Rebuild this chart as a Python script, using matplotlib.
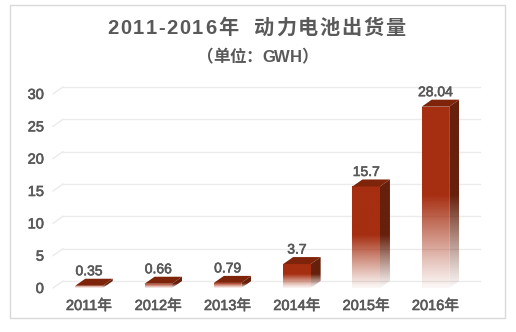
import numpy as np
import matplotlib
matplotlib.use("Agg")
import matplotlib.pyplot as plt
import matplotlib.patheffects as pe
from matplotlib.patches import Polygon, Rectangle
from matplotlib.colors import to_rgb

FAM = ['Liberation Sans', 'Noto Sans CJK SC', 'DejaVu Sans']
plt.rcParams['font.family'] = FAM

# ---- data ----
categories = ["2011年", "2012年", "2013年", "2014年", "2015年", "2016年"]
values = [0.35, 0.66, 0.79, 3.7, 15.7, 28.04]
value_labels = ["0.35", "0.66", "0.79", "3.7", "15.7", "28.04"]
y_ticks = [0, 5, 10, 15, 20, 25, 30]
title = "2011-2016年  动力电池出货量"
subtitle = "（单位：GWH）"

# ---- layout (pixel mapping) ----
W_PX, H_PX = 516, 332
X0_PX, X_STEP = 89.0, 69.3      # pixel of category 0, pixels per category
Y0_PX, Y_UNIT = 281.0, 6.467    # pixel of value 0 (back wall), pixels per unit

fig = plt.figure(figsize=(W_PX / 100, H_PX / 100), dpi=100)
ax = fig.add_axes([0, 0, 1, 1])
ax.axis('off')
ax.set_xlim((0 - X0_PX) / X_STEP, (W_PX - X0_PX) / X_STEP)
ax.set_ylim((Y0_PX - H_PX) / Y_UNIT, Y0_PX / Y_UNIT)

def px_x(p):
    return (p - X0_PX) / X_STEP

def px_y(p):
    return (Y0_PX - p) / Y_UNIT

TEXT = "#595959"
FRONT = to_rgb("#A62E11")
TOP = to_rgb("#7E240A")
SIDE = to_rgb("#66200C")
THICK = [pe.withStroke(linewidth=0.45, foreground=TEXT)]

BW = 27.5 / X_STEP
DX = 10 / X_STEP
DY = 7 / Y_UNIT

renderer = fig.canvas.get_renderer()

def spaced_text(s, cx_px, cy_px, size, target_w, weight='bold'):
    """Draw text with uniform letter spacing, centred at (cx_px, cy_px)."""
    arts, widths = [], []
    for ch in s:
        t = ax.text(0, 0, ch if ch != ' ' else '', fontsize=size, fontweight=weight,
                    color=TEXT, ha='left', va='center')
        if ch == ' ':
            w = 0.28 * size * 100 / 72
        else:
            w = t.get_window_extent(renderer).width
        arts.append(t)
        widths.append(w)
    gap = (target_w - sum(widths)) / max(len(s) - 1, 1)
    x = cx_px - target_w / 2
    for t, w in zip(arts, widths):
        t.set_position((px_x(x), px_y(cy_px)))
        x += w + gap

# outer border
ax.add_patch(Rectangle((px_x(10), px_y(318)), px_x(505) - px_x(10), px_y(5) - px_y(318),
                       fill=False, edgecolor="#D9D9D9", lw=1.0, zorder=0))

# gridlines on back wall with floor diagonals
gl_left, gl_right = px_x(63), px_x(480)
for t in y_ticks:
    ax.plot([gl_left, gl_right], [t, t], color="#EBEBEB", lw=1.0, zorder=1)
    ax.plot([gl_left - DX, gl_left], [t - DY, t], color="#EBEBEB", lw=1.0, zorder=1)
    ax.text(px_x(44), t - 8 / Y_UNIT, str(t), ha='right', va='center',
            fontsize=10.5, color=TEXT, path_effects=THICK)

def gradient_img(color, y_bottom, y_top, fade_top, n=200):
    ys = np.linspace(y_bottom, y_top, n)
    a = np.clip((ys - y_bottom) / max(fade_top - y_bottom, 1e-6), 0.0, 1.0)
    a = 0.04 + 0.96 * a ** 1.1
    arr = np.zeros((n, 1, 4))
    arr[:, 0, :3] = color
    arr[:, 0, 3] = a
    return arr

for i, v in enumerate(values):
    xl, xr = i - BW / 2, i + BW / 2
    yb, yt = -DY, v - DY
    fade_top = yb + 0.5 * v + 0.3
    # front face
    front = Polygon([(xl, yb), (xr, yb), (xr, yt), (xl, yt)], closed=True,
                    facecolor='none', edgecolor='none')
    ax.add_patch(front)
    im = ax.imshow(gradient_img(FRONT, yb, yt, fade_top), extent=[xl, xr, yb, yt],
                   origin='lower', aspect='auto', interpolation='bilinear', zorder=3)
    im.set_clip_path(front)
    # side face
    side = Polygon([(xr, yb), (xr + DX, 0), (xr + DX, v), (xr, yt)], closed=True,
                   facecolor='none', edgecolor='none')
    ax.add_patch(side)
    im2 = ax.imshow(gradient_img(SIDE, yb, v, fade_top), extent=[xr, xr + DX, yb, v],
                    origin='lower', aspect='auto', interpolation='bilinear', zorder=3)
    im2.set_clip_path(side)
    # top face
    ax.add_patch(Polygon([(xl, yt), (xr, yt), (xr + DX, v), (xl + DX, v)], closed=True,
                         facecolor=TOP, edgecolor='none', zorder=4))
    # value label
    ax.text(i, v + 7.5 / Y_UNIT, value_labels[i], ha='center', va='center',
            fontsize=10, color=TEXT, path_effects=THICK)
    # category label
    ax.text(i, px_y(306), categories[i], ha='center', va='center',
            fontsize=10.5, color=TEXT, path_effects=THICK)

spaced_text(title, 256, 28, 14.5, 298)
spaced_text(subtitle, 257.5, 57, 12, 121)

ax.set_xlim(px_x(0), px_x(W_PX))
ax.set_ylim(px_y(H_PX), px_y(0))

fig.savefig("out.png", dpi=100, facecolor="white")
